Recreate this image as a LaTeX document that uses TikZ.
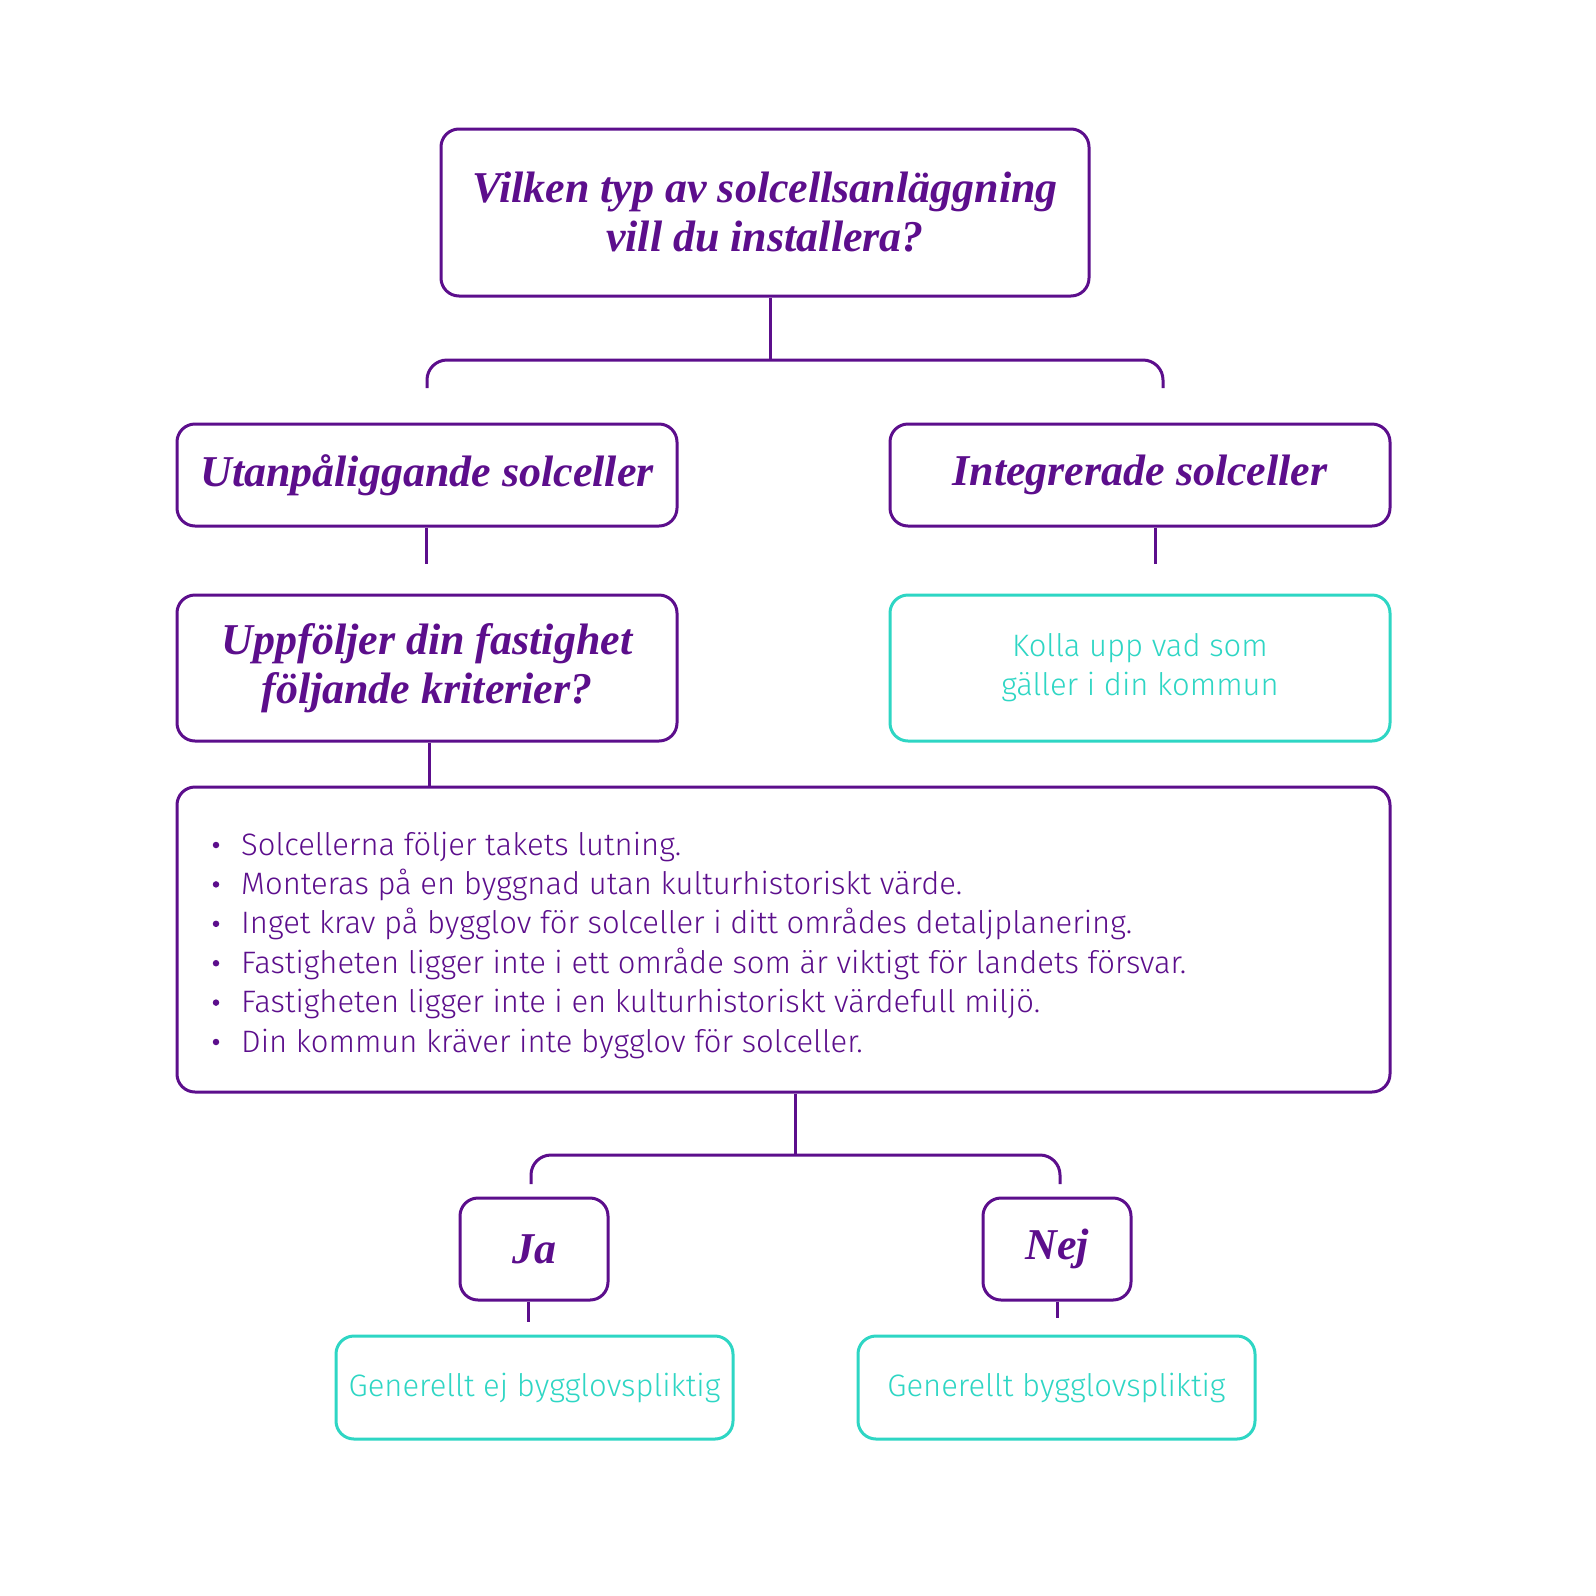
\documentclass[tikz,border=0pt]{standalone}
\usepackage{fontspec}
\setmainfont{Liberation Serif}
\newfontfamily\sansl{Fira Sans Light}
\definecolor{pur}{RGB}{92,14,140}
\definecolor{tealc}{RGB}{46,214,196}
\begin{document}
\begin{tikzpicture}[x=1pt,y=-1pt,
  pbox/.style={draw=pur, line width=3pt, rounded corners=18pt, inner sep=0pt, align=center, text=pur},
  tbox/.style={draw=tealc, line width=3pt, rounded corners=18pt, inner sep=0pt, align=center, text=tealc},
  ttl/.style={font=\fontsize{44}{49}\selectfont\bfseries\itshape},
  lbl/.style={font=\sansl\fontsize{31}{39}\selectfont},
  item/.style={font=\sansl\fontsize{31}{39}\selectfont, text=pur, anchor=base west, inner sep=0pt},
  dot/.style={fill=pur, circle, inner sep=0pt, minimum size=6.5pt},
  conn/.style={draw=pur, line width=3pt},
  brk/.style={draw=pur, line width=3pt, rounded corners=20pt}]
\useasboundingbox (0,0) rectangle (1596,1596);
\fill[white] (0,0) rectangle (1596,1596);

\node[pbox, ttl, minimum width=648pt, minimum height=167pt] (q1) at (765,212.5) {Vilken typ av solcellsanläggning\\vill du installera?};
\node[pbox, ttl, minimum width=500pt, minimum height=102pt] (utan) at (427,475) {Utanpåliggande solceller};
\node[pbox, ttl, minimum width=500pt, minimum height=102pt] (integ) at (1140,475) {Integrerade solceller};
\node[pbox, ttl, minimum width=500pt, minimum height=146pt] (q2) at (427,668) {Uppföljer din fastighet\\följande kriterier?};
\node[tbox, lbl, minimum width=500pt, minimum height=146pt] (kolla) at (1140,668) {Kolla upp vad som\\gäller i din kommun};
\node[draw=pur, line width=3pt, rounded corners=18pt, minimum width=1213pt, minimum height=305pt] (krit) at (783.5,939.5) {};
\node[item] (k1) at (241,855) {Solcellerna följer takets lutning.};
\node[item] (k2) at (241,894.4) {Monteras på en byggnad utan kulturhistoriskt värde.};
\node[item] (k3) at (241,933.8) {Inget krav på bygglov för solceller i ditt områdes detaljplanering.};
\node[item] (k4) at (241,973.2) {Fastigheten ligger inte i ett område som är viktigt för landets försvar.};
\node[item] (k5) at (241,1012.6) {Fastigheten ligger inte i en kulturhistoriskt värdefull miljö.};
\node[item] (k6) at (241,1052) {Din kommun kräver inte bygglov för solceller.};
\foreach \k in {k1,k2,k3,k4,k5,k6} \node[dot] at ([xshift=-25pt,yshift=10pt]\k.base west) {};
\node[pbox, ttl, minimum width=148pt, minimum height=102pt] (ja) at (534,1249) {Ja};
\node[pbox, ttl, minimum width=148pt, minimum height=102pt] (nej) at (1057,1249) {Nej};
\node[tbox, lbl, minimum width=397pt, minimum height=103pt] (genej) at (534.5,1387.5) {Generellt ej bygglovspliktig};
\node[tbox, lbl, minimum width=397pt, minimum height=103pt] (gen) at (1056.5,1387.5) {Generellt bygglovspliktig};

% connectors
\coordinate (b1) at (770,360);
\coordinate (b1l) at (427,388);
\coordinate (b1r) at (1163,388);
\draw[conn] (q1.south -| b1) -- (b1);
\draw[brk] (b1l) -- (b1l |- b1) -- (b1r |- b1) -- (b1r);
\coordinate (u1) at (426,564);
\draw[conn] (utan.south -| u1) -- (u1);
\coordinate (i1) at (1155,564);
\draw[conn] (integ.south -| i1) -- (i1);
\coordinate (q2x) at (429,0);
\draw[conn] (q2.south -| q2x) -- (krit.north -| q2x);
\coordinate (b2) at (795,1155);
\coordinate (b2l) at (531,1184);
\coordinate (b2r) at (1060,1184);
\draw[conn] (krit.south -| b2) -- (b2);
\draw[brk] (b2l) -- (b2l |- b2) -- (b2r |- b2) -- (b2r);
\coordinate (j1) at (528,1322);
\draw[conn] (ja.south -| j1) -- (j1);
\coordinate (n1) at (1057,1318);
\draw[conn] (nej.south -| n1) -- (n1);
\end{tikzpicture}
\end{document}
